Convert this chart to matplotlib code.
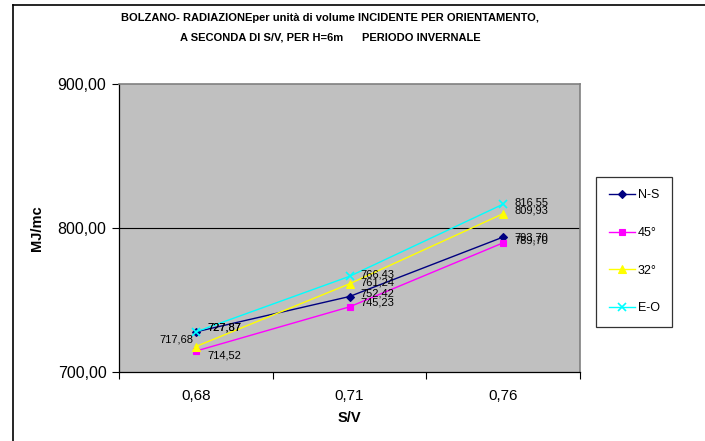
import matplotlib
matplotlib.use("Agg")
import matplotlib.pyplot as plt
from matplotlib.lines import Line2D

plt.rcParams['font.family'] = ['Liberation Sans', 'DejaVu Sans']

categories = ["0,68", "0,71", "0,76"]
series_names = ["N-S", "45°", "32°", "E-O"]
ns_vals = [727.87, 752.42, 793.70]
deg45_vals = [714.52, 745.23, 789.70]
deg32_vals = [717.68, 761.24, 809.93]
eo_vals = [727.87, 766.43, 816.55]
y_ticks = [700, 800, 900]

series = [
    (ns_vals, "#000080", "D", 4),
    (deg45_vals, "#FF00FF", "s", 5),
    (deg32_vals, "#FFFF00", "^", 6),
    (eo_vals, "#00FFFF", "x", 6),
]

def fmt(v):
    return f"{v:.2f}".replace(".", ",")

W, H = 705, 441
fig = plt.figure(figsize=(W / 100, H / 100), dpi=100)
ax = fig.add_axes([119 / W, 1 - 372 / H, (580 - 119) / W, (372 - 84) / H])
ax.set_facecolor("#C0C0C0")

x = list(range(len(categories)))
handles = []
for (vals, col, mk, ms), name in zip(series, series_names):
    h, = ax.plot(x, vals, color=col, marker=mk, markersize=ms, lw=1,
                 markeredgecolor=col, markerfacecolor=col, label=name,
                 markeredgewidth=1.2 if mk == "x" else 0.8, zorder=3)
    handles.append(h)

# data labels
offsets = {
    (0, 0): (8, 3, "left"), (1, 0): (8, 2, "left"), (2, 0): (8, 0, "left"),
    (0, 1): (8, -3, "left"), (1, 1): (8, 3, "left"), (2, 1): (8, 2, "left"),
    (0, 2): (-2, 5, "right"), (1, 2): (8, 1, "left"), (2, 2): (8, 2, "left"),
    (0, 3): (8, 3, "left"), (1, 3): (8, 1, "left"), (2, 3): (8, 1, "left"),
}
for si, (vals, col, mk, ms) in enumerate(series):
    for xi, v in enumerate(vals):
        dx, dy, ha = offsets[(xi, si)]
        ax.annotate(fmt(v), (xi, v), xytext=(dx, dy), textcoords="offset points",
                    ha=ha, va="center", fontsize=8, color="black", zorder=4)

ax.set_xlim(-0.5, 2.5)
ax.set_ylim(700, 900)
ax.set_yticks(y_ticks)
ax.set_yticklabels([fmt(v) for v in y_ticks], fontsize=11.5)
ax.axhline(800, color="black", lw=0.8, zorder=1)

ax.set_xticks([-0.5, 0.5, 1.5, 2.5])
ax.set_xticklabels([])
ax.set_xticks(x, minor=True)
ax.set_xticklabels(categories, minor=True, fontsize=11)
ax.tick_params(axis="x", which="minor", length=0, pad=12)
ax.tick_params(axis="x", which="major", length=5, width=0.8, direction="out")
ax.tick_params(axis="y", length=5, width=0.8, direction="out", pad=4)

for s in ["left", "bottom"]:
    ax.spines[s].set_color("black")
    ax.spines[s].set_linewidth(0.9)
for s in ["top", "right"]:
    ax.spines[s].set_color("#808080")
    ax.spines[s].set_linewidth(1.2)

ax.set_xlabel("S/V", fontsize=10.5, fontweight="bold", labelpad=6)
ax.set_ylabel("MJ/mc", fontsize=10.5, fontweight="bold", labelpad=10)

fig.text(330 / W, 1 - 18 / H,
         "BOLZANO- RADIAZIONEper unità di volume INCIDENTE PER ORIENTAMENTO,",
         ha="center", va="center", fontsize=8, fontweight="bold")
fig.text(330 / W, 1 - 37 / H,
         "A SECONDA DI S/V, PER H=6m      PERIODO INVERNALE",
         ha="center", va="center", fontsize=8, fontweight="bold")

leg = fig.legend(handles=handles, labels=series_names, loc="upper left",
                 bbox_to_anchor=(596 / W, 1 - 177 / H), fontsize=9,
                 frameon=True, fancybox=False, edgecolor="black",
                 labelspacing=2.05, handlelength=2.1, borderpad=1.0,
                 handletextpad=0.25, borderaxespad=0)
leg.get_frame().set_linewidth(0.9)

# outer chart border (left and top visible)
fig.add_artist(Line2D([12.5 / W, 12.5 / W], [0, 1 - 4.5 / H], transform=fig.transFigure,
                      color="black", lw=1.2))
fig.add_artist(Line2D([12.5 / W, 1], [1 - 4.5 / H, 1 - 4.5 / H], transform=fig.transFigure,
                      color="black", lw=1.2))

fig.savefig("out.png", dpi=100)
